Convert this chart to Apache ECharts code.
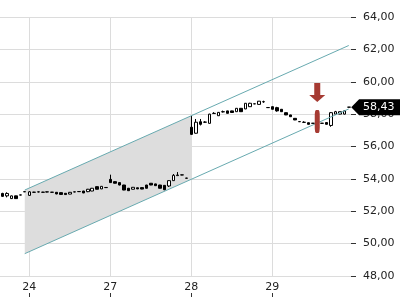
<!DOCTYPE html>
<html>
<head>
<meta charset="utf-8">
<script src="https://cdn.jsdelivr.net/npm/echarts@6/dist/echarts.min.js"></script>
<style>
  html, body { margin: 0; padding: 0; background: #fff; }
  #chart { width: 400px; height: 300px; }
</style>
</head>
<body>
<div id="chart"></div>
<script>
// candles per trading day: [open, close, low, high]
const days = ['23', '24', '27', '28', '29'];
const day23 = [
  [53.10, 52.92, 52.88, 53.14], [52.95, 53.10, 52.86, 53.17], [52.78, 52.95, 52.76, 52.97],
  [52.95, 52.78, 52.76, 52.96], [53.00, 53.01, 52.99, 53.02], [53.20, 53.21, 53.19, 53.22]
];
const day24 = [
  [52.98, 53.20, 52.95, 53.25], [53.17, 53.18, 53.15, 53.20], [53.19, 53.20, 53.17, 53.22],
  [53.17, 53.18, 53.15, 53.20], [53.19, 53.20, 53.17, 53.22], [53.17, 53.18, 53.15, 53.19],
  [53.17, 53.07, 53.05, 53.18], [53.15, 53.04, 53.03, 53.16], [53.11, 53.03, 53.02, 53.12],
  [53.06, 53.17, 53.05, 53.19], [53.19, 53.20, 53.18, 53.21], [53.21, 53.22, 53.20, 53.24],
  [53.25, 53.13, 53.12, 53.26], [53.21, 53.36, 53.18, 53.38], [53.25, 53.42, 53.24, 53.44],
  [53.52, 53.36, 53.35, 53.53], [53.38, 53.54, 53.37, 53.55], [53.46, 53.47, 53.45, 53.48]
];
const day27 = [
  [53.97, 53.77, 53.76, 54.26], [53.83, 53.73, 53.72, 53.85], [53.77, 53.62, 53.60, 53.78],
  [53.62, 53.31, 53.30, 53.63], [53.42, 53.27, 53.26, 53.44], [53.36, 53.48, 53.35, 53.49],
  [53.45, 53.38, 53.37, 53.46], [53.46, 53.37, 53.36, 53.47], [53.62, 53.42, 53.41, 53.63],
  [53.73, 53.62, 53.61, 53.74], [53.69, 53.58, 53.57, 53.70], [53.62, 53.42, 53.41, 53.63],
  [53.60, 53.33, 53.30, 53.61], [53.56, 53.89, 53.50, 53.92], [53.89, 54.22, 53.88, 54.30],
  [54.20, 54.24, 54.19, 54.42], [54.24, 54.25, 54.23, 54.26], [54.05, 54.04, 54.03, 54.06]
];
const day28 = [
  [57.19, 56.75, 56.71, 57.89], [56.82, 57.50, 56.80, 57.70], [57.53, 57.37, 57.30, 57.70],
  [57.50, 57.51, 57.45, 57.56], [57.43, 58.00, 57.42, 58.02], [58.04, 58.05, 58.03, 58.12],
  [57.90, 58.11, 57.89, 58.13], [58.14, 58.15, 58.10, 58.22], [58.20, 58.05, 58.04, 58.21],
  [58.20, 58.10, 58.09, 58.21], [58.15, 58.36, 58.14, 58.37], [58.36, 58.15, 58.14, 58.37],
  [58.32, 58.67, 58.31, 58.68], [58.46, 58.67, 58.45, 58.70], [58.63, 58.64, 58.62, 58.65],
  [58.60, 58.80, 58.59, 58.81], [58.76, 58.77, 58.70, 58.83], [58.40, 58.41, 58.39, 58.42]
];
const day29 = [
  [58.46, 58.30, 58.29, 58.47], [58.40, 58.20, 58.15, 58.45], [58.30, 58.15, 58.14, 58.31],
  [58.09, 57.95, 57.94, 58.10], [57.95, 57.84, 57.83, 57.96], [57.74, 57.64, 57.63, 57.75],
  [57.53, 57.54, 57.52, 57.55], [57.49, 57.50, 57.48, 57.56], [57.47, 57.37, 57.36, 57.48],
  [57.43, 57.44, 57.42, 57.45], [57.44, 57.37, 57.36, 57.45], [57.43, 57.44, 57.42, 57.45],
  [57.48, 57.37, 57.36, 57.49], [57.30, 58.09, 57.22, 58.12], [58.00, 58.15, 57.98, 58.20],
  [58.00, 58.15, 57.99, 58.16], [58.00, 58.20, 57.98, 58.25], [58.43, 58.43, 58.42, 58.44]
];

// trend channel [index, price] and shaded part [fromIdx, low, high, toIdx, low, high]
const channelUpper = [[5, 53.31], [77, 62.24]];
const channelLower = [[5, 49.38], [77, 58.32]];
const channelShade = [5, 49.38, 53.31, 42, 53.97, 57.90];

// signal: arrow and bar at index 70
const signalIndex = 70;
const signalArrowPrice = 59.34;
const signalBarPrice = 57.55;

const yTicks = [48, 50, 52, 54, 56, 58, 60, 62, 64];

const dayBars = [day23, day24, day27, day28, day29];
const categories = [];
dayBars.forEach((bars, d) => bars.forEach((b, j) => categories.push(days[d] + '/' + j)));
const candles = [].concat(...dayBars);
const lastIdx = candles.length - 1;
const lastClose = candles[lastIdx][1];

const fmt = v => v.toFixed(2).replace('.', ',');
const isDayStart = (i, v) => v.endsWith('/0') && !v.startsWith('23/');

const chart = echarts.init(document.getElementById('chart'));
const font = 'DejaVu Sans';

chart.setOption({
  animation: false,
  backgroundColor: '#fff',
  grid: { left: 0, right: 49, top: 17, bottom: 24 },
  xAxis: [{
    type: 'category',
    data: categories,
    boundaryGap: true,
    axisLine: { show: false },
    axisTick: { show: false },
    axisLabel: {
      interval: isDayStart, formatter: v => v.split('/')[0],
      color: '#222', fontFamily: font, fontSize: 11, margin: 6
    },
    splitLine: { show: true, interval: isDayStart, alignWithLabel: true, lineStyle: { color: '#dcdcdc' } }
  }, {
    type: 'category',
    data: categories,
    position: 'bottom',
    offset: 17,
    axisLine: { show: false },
    axisLabel: { show: false },
    axisTick: { show: true, interval: isDayStart, alignWithLabel: true, length: 4, lineStyle: { color: '#333' } },
    splitLine: { show: false }
  }],
  yAxis: {
    type: 'value',
    position: 'right',
    min: yTicks[0], max: yTicks[yTicks.length - 1], interval: 2,
    axisLine: { show: false },
    axisTick: { show: true, length: 5, lineStyle: { color: '#333' } },
    axisLabel: { formatter: fmt, color: '#222', fontFamily: font, fontSize: 11, margin: 12 },
    splitLine: { lineStyle: { color: '#dcdcdc' } }
  },
  series: [
    {
      type: 'custom',
      silent: true,
      data: [channelShade],
      encode: { x: 0, y: 1 },
      renderItem: (params, api) => {
        const p = [
          api.coord([api.value(0), api.value(1)]),
          api.coord([api.value(0), api.value(2)]),
          api.coord([api.value(3), api.value(5)]),
          api.coord([api.value(3), api.value(4)])
        ];
        return { type: 'polygon', shape: { points: p }, style: { fill: '#dddddd' } };
      }
    },
    {
      type: 'candlestick',
      data: candles,
      barWidth: 3,
      itemStyle: { color: '#fff', color0: '#000', borderColor: '#000', borderColor0: '#000', borderWidth: 1 },
      markPoint: {
        silent: true,
        data: [
          {
            coord: [signalIndex, signalArrowPrice],
            symbol: 'path://M5,0 L11,0 L11,12 L16,12 L8,19 L0,12 L5,12 Z',
            symbolSize: [16, 19], symbolKeepAspect: false,
            itemStyle: { color: '#a63b33' }, label: { show: false }
          },
          {
            coord: [signalIndex, signalBarPrice],
            symbol: 'roundRect', symbolSize: [5, 23],
            itemStyle: { color: '#a63b33' }, label: { show: false }
          },
          {
            coord: [lastIdx, lastClose],
            symbol: 'path://M0,8 L8,0 L50,0 L50,16 L8,16 Z',
            symbolSize: [49, 16], symbolOffset: [27, 0], symbolKeepAspect: false,
            itemStyle: { color: '#000' },
            label: { show: true, position: 'inside', formatter: fmt(lastClose), color: '#fff', fontFamily: font, fontSize: 11, offset: [3, 0] }
          }
        ]
      }
    },
    {
      type: 'line', data: channelUpper, symbol: 'none', silent: true,
      lineStyle: { color: '#68aab0', width: 1 }
    },
    {
      type: 'line', data: channelLower, symbol: 'none', silent: true,
      lineStyle: { color: '#68aab0', width: 1 }
    }
  ]
});
</script>
</body>
</html>
